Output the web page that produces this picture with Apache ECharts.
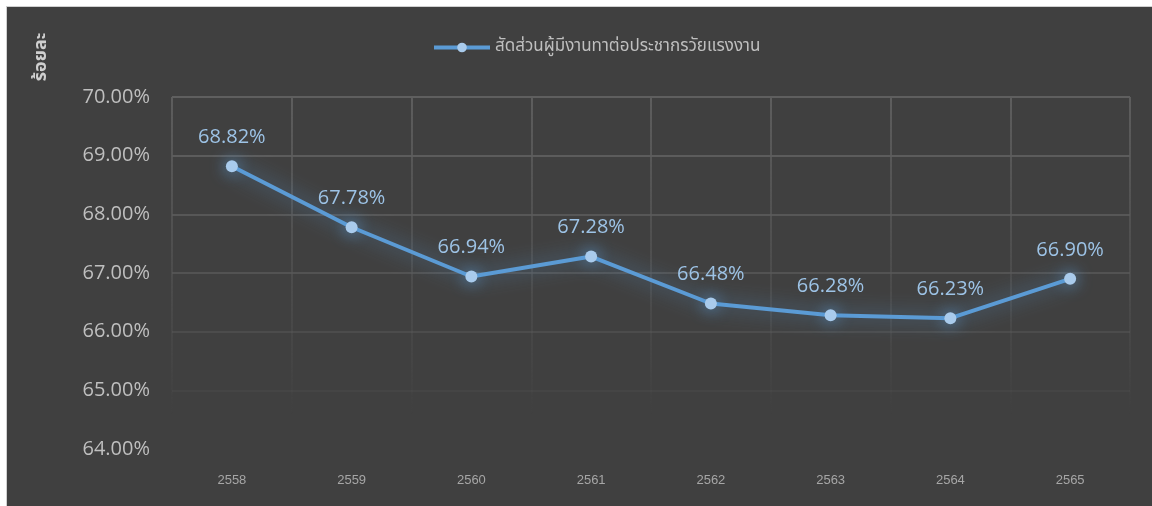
<!DOCTYPE html>
<html>
<head>
<meta charset="utf-8">
<script src="https://cdn.jsdelivr.net/npm/echarts@6/dist/echarts.min.js"></script>
<style>
  html, body { margin: 0; padding: 0; background: #ffffff; }
  #panel {
    position: absolute; left: 6px; top: 6px; width: 1146px; height: 500px;
    background: #404040; border-left: 1px solid #d0d0d0; border-top: 1px solid #d0d0d0;
    box-sizing: border-box;
  }
  #chart { position: absolute; left: 0; top: 0; width: 1152px; height: 506px; }
</style>
</head>
<body>
<div id="panel"></div>
<div id="chart"></div>
<script>
// Years (Buddhist Era) and employment-to-working-age-population ratio (%)
const years = ['2558', '2559', '2560', '2561', '2562', '2563', '2564', '2565'];
const ratio = [68.82, 67.78, 66.94, 67.28, 66.48, 66.28, 66.23, 66.90];
const seriesName = 'สัดส่วนผู้มีงานทาต่อประชากรวัยแรงงาน';
const axisName = 'ร้อยละ';
const yMin = 64, yMax = 70, yStep = 1;

const numFont = '"Open Sans", "Noto Sans", sans-serif';
const thaiFont = '"Noto Sans Thai", "Leelawadee UI", Tahoma, "Noto Sans", sans-serif';

const chart = echarts.init(document.getElementById('chart'), null, { renderer: 'canvas' });

// vertical grid lines fade out towards the bottom of the plot
const vGrid = new echarts.graphic.LinearGradient(0, 97, 0, 415, [
  { offset: 0, color: 'rgba(95,95,95,0.95)' },
  { offset: 0.6, color: 'rgba(90,90,90,0.45)' },
  { offset: 1, color: 'rgba(90,90,90,0)' }
], true);

chart.setOption({
  backgroundColor: 'transparent',
  animation: false,
  grid: { left: 172, right: 22, top: 97, bottom: 57 },
  legend: {
    top: 34,
    left: 427,
    itemWidth: 56,
    itemHeight: 12,
    itemGap: 4,
    lineStyle: { width: 4 },
    textStyle: { color: '#bfbfbf', fontSize: 17, fontFamily: thaiFont },
    data: [seriesName]
  },
  graphic: [{
    type: 'text',
    x: 42, y: 57,
    rotation: Math.PI / 2,
    style: {
      text: axisName,
      fill: '#d0d0d0',
      font: 'bold 18px ' + thaiFont,
      textAlign: 'center',
      textVerticalAlign: 'middle'
    }
  }],
  xAxis: {
    type: 'category',
    data: years,
    boundaryGap: true,
    axisLine: { show: false },
    axisTick: { show: false },
    axisLabel: { color: '#a6a6a6', fontSize: 13, margin: 25, fontFamily: '"Liberation Sans", Arial, sans-serif' },
    splitLine: { show: true, interval: 0, lineStyle: { color: vGrid, width: 2 } }
  },
  yAxis: {
    type: 'value',
    min: yMin, max: yMax, interval: yStep,
    axisLine: { show: false },
    axisTick: { show: false },
    axisLabel: {
      color: '#bfbfbf', fontSize: 20, margin: 22, fontFamily: numFont,
      formatter: v => v.toFixed(2) + '%'
    },
    splitLine: {
      show: true,
      lineStyle: {
        width: 2,
        color: ['rgba(0,0,0,0)', 'rgba(80,80,80,0.35)', 'rgba(85,85,85,0.6)',
                'rgba(88,88,88,0.8)', 'rgba(90,90,90,0.9)', 'rgba(92,92,92,1)',
                'rgba(95,95,95,1)']
      }
    }
  },
  series: [{
    name: seriesName,
    type: 'line',
    data: ratio,
    symbol: 'circle',
    symbolSize: 12,
    lineStyle: {
      color: '#5b9bd5', width: 4,
      shadowBlur: 20, shadowColor: 'rgba(91,155,213,0.75)'
    },
    itemStyle: {
      color: '#a9cbec', borderWidth: 0,
      shadowBlur: 16, shadowColor: 'rgba(91,155,213,1)'
    },
    label: {
      show: true,
      position: 'top',
      distance: 13,
      color: '#9dc3e6',
      fontSize: 20,
      fontFamily: numFont,
      formatter: p => p.value.toFixed(2) + '%'
    }
  }]
});
</script>
</body>
</html>
